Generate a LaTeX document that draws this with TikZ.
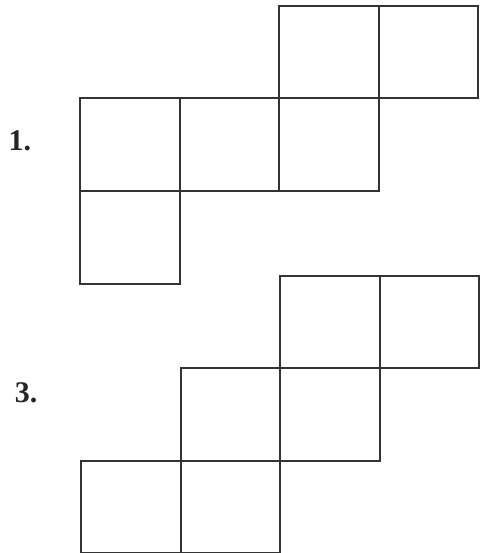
\documentclass[tikz,border=0pt]{standalone}
\usepackage{fontspec}
\setmainfont{Liberation Serif}
\usepackage{tikz}
\usetikzlibrary{positioning}

\begin{document}
\begin{tikzpicture}[
    x=1pt, y=-1pt,
    cell/.style={draw, line width=2pt, minimum width=99.5pt, minimum height=92.5pt, inner sep=0pt, color=black!80},
    num/.style={font=\fontsize{30}{34}\selectfont\bfseries, text=black!85, inner sep=0pt}
]
\useasboundingbox (0,0) rectangle (479,553);
% net 1
\foreach \c/\r [count=\i] in {2/0,3/0,0/1,1/1,2/1,0/2}
    \node[cell] (a\i) at ({80+99.5*\c+49.75},{6+92.5*\r+46.25}) {};
% net 3
\foreach \c/\r [count=\i] in {2/0,3/0,1/1,2/1,0/2,1/2}
    \node[cell] (b\i) at ({81+99.5*\c+49.75},{275.5+92.5*\r+46.25}) {};
\node[num] (lab1) at (20,141) {1.};
\node[num] (lab3) at (26,393) {3.};
\end{tikzpicture}
\end{document}
